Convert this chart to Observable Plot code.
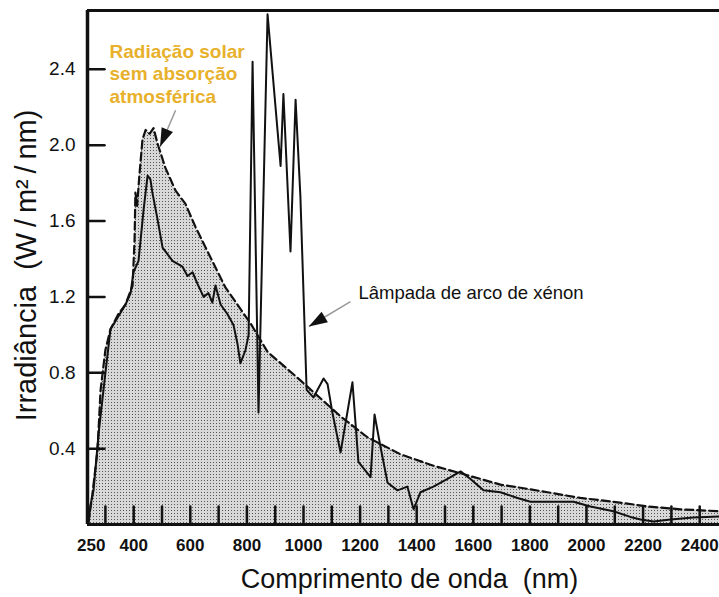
<!DOCTYPE html>
<html><head><meta charset="utf-8">
<script src="https://cdn.jsdelivr.net/npm/d3@7"></script>
<script src="https://cdn.jsdelivr.net/npm/@observablehq/plot@0.6"></script>
<style>body{margin:0;background:#fff}</style>
</head><body><div id="chart"></div>
<script>
// Solar spectrum without atmospheric absorption (dashed, filled)
const solarNm  = [240, 254, 272, 283, 300, 318, 346, 371, 396, 403, 406, 412, 420, 431, 442, 456, 470, 484, 512, 548, 583, 618, 664, 724, 813, 873, 989, 1131, 1226, 1343, 1459, 1555, 1696, 1742, 1862, 1979, 2095, 2216, 2332, 2470];
const solarIrr = [0.01, 0.16, 0.39, 0.71, 0.92, 1.03, 1.11, 1.16, 1.26, 1.50, 1.75, 1.68, 1.84, 2.03, 2.08, 2.06, 2.09, 2.01, 1.88, 1.76, 1.69, 1.57, 1.43, 1.25, 1.06, 0.91, 0.76, 0.57, 0.46, 0.37, 0.31, 0.27, 0.21, 0.20, 0.17, 0.14, 0.12, 0.095, 0.08, 0.07];
// Xenon arc lamp (solid)
const lampNm  = [240, 247, 258, 276, 300, 318, 343, 371, 389, 399, 417, 435, 449, 459, 466, 484, 502, 537, 572, 590, 608, 625, 647, 664, 678, 689, 707, 731, 753, 767, 777, 795, 806, 820, 841, 873, 919, 929, 954, 972, 989, 1011, 1035, 1071, 1085, 1102, 1131, 1173, 1194, 1237, 1251, 1272, 1297, 1332, 1367, 1389, 1413, 1459, 1509, 1555, 1590, 1636, 1696, 1756, 1802, 1862, 1954, 2014, 2095, 2155, 2191, 2237, 2297, 2378, 2470];
const lampIrr = [0.01, 0.10, 0.18, 0.48, 0.80, 1.03, 1.09, 1.16, 1.22, 1.33, 1.39, 1.66, 1.84, 1.82, 1.75, 1.61, 1.46, 1.39, 1.36, 1.31, 1.33, 1.27, 1.20, 1.22, 1.17, 1.26, 1.16, 1.11, 1.05, 0.95, 0.85, 0.92, 1.00, 2.44, 0.59, 2.69, 1.89, 2.27, 1.44, 2.24, 1.73, 0.71, 0.67, 0.77, 0.74, 0.59, 0.38, 0.75, 0.33, 0.25, 0.58, 0.41, 0.22, 0.18, 0.20, 0.08, 0.17, 0.20, 0.24, 0.28, 0.24, 0.18, 0.17, 0.14, 0.12, 0.12, 0.12, 0.095, 0.07, 0.04, 0.026, 0.016, 0.026, 0.037, 0.042];
const xTickLabels = [250, 400, 600, 800, 1000, 1200, 1400, 1600, 1800, 2000, 2200, 2400];
const xTickMarks = [300, 400, 500, 600, 700, 800, 900, 1000, 1100, 1200, 1300, 1400, 1500, 1600, 1700, 1800, 1900, 2000, 2100, 2200, 2300, 2400];
const yTicks = [0.4, 0.8, 1.2, 1.6, 2.0, 2.4];
const xTitle = "Comprimento de onda\u00a0 (nm)";
const yTitle = "Irradiância\u00a0 (W\u2009/\u2009m²\u2009/\u2009nm)";
const solarLabel = ["Radiação solar", "sem absorção", "atmosférica"];
const lampLabel = "Lâmpada de arco de xénon";

const W = 719, H = 597, mL = 87, mR = 0, mT = 10, mB = 73;
const xDom = [236.7, 2470], yDom = [0, 2.71];
const solar = solarNm.map((x, i) => ({x, y: solarIrr[i]}));
const lamp = lampNm.map((x, i) => ({x, y: lampIrr[i]}));

// inward tick lengths (18 px / 17 px) expressed in data units
const fw = W - mL - mR, fh = H - mT - mB;
const xTickLen = 18 / fh * (yDom[1] - yDom[0]);
const yTickLen = 17 / fw * (xDom[1] - xDom[0]);
// tick segments built from the tick arrays (two end points per tick)
const xTickSegs = xTickMarks.flatMap(v => [{x: v, y: 0, k: "x" + v}, {x: v, y: xTickLen, k: "x" + v}]);
const yTickSegs = yTicks.flatMap(v => [{x: xDom[0], y: v, k: "y" + v}, {x: xDom[0] + yTickLen, y: v, k: "y" + v}]);

// annotation anchors (data space)
const arrows = [
  {x1: 548, y1: 2.184, x2: 493, y2: 1.992, rot: -157},
  {x1: 1166, y1: 1.175, x2: 1018.7, y2: 1.044, rot: -121}
];
const headSymbol = {draw(ctx, size) { const L = Math.sqrt(size); ctx.moveTo(0, 0); ctx.lineTo(-0.33 * L, L); ctx.lineTo(0.33 * L, L); ctx.closePath(); }};

const plot = Plot.plot({
  width: W, height: H, marginLeft: mL, marginRight: mR, marginTop: mT, marginBottom: mB,
  style: {fontFamily: "'Liberation Sans', Arial, sans-serif", background: "#fff", color: "#111", overflow: "visible"},
  x: {domain: xDom},
  y: {domain: yDom},
  marks: [
    Plot.areaY(solar, {x: "x", y: "y", fill: "url(#stipple)"}),
    Plot.line(xTickSegs, {x: "x", y: "y", z: "k", stroke: "#111", strokeWidth: 2.5}),
    Plot.line(yTickSegs, {x: "x", y: "y", z: "k", stroke: "#111", strokeWidth: 2.5}),
    Plot.lineY(solar, {x: "x", y: "y", stroke: "#111", strokeWidth: 2.2, strokeDasharray: "8,4"}),
    Plot.lineY(lamp, {x: "x", y: "y", stroke: "#111", strokeWidth: 2}),
    Plot.axisX(xTickLabels, {tickSize: 0, tickPadding: 14, fontSize: 17, fontWeight: "bold", tickFormat: d => String(d), label: null}),
    Plot.axisY(yTicks, {tickSize: 0, tickPadding: 12, fontSize: 19, tickFormat: d => d.toFixed(1), label: null}),
    Plot.text([xTitle], {text: d => d, frameAnchor: "bottom", dy: 63, dx: 6, fontSize: 27, fill: "#111"}),
    Plot.text([yTitle], {text: d => d, frameAnchor: "left", dx: -61, dy: -2, rotate: -90, textAnchor: "middle", lineAnchor: "middle", fontSize: 29, fill: "#111"}),
    Plot.text([solarLabel.join("\n")], {text: d => d, x: 314.5, y: 2.379, textAnchor: "start", lineAnchor: "middle", lineHeight: 1.18, fontSize: 19, fontWeight: "bold", fill: "#E8B12C"}),
    Plot.text([lampLabel], {text: d => d, x: 1194, y: 1.221, textAnchor: "start", fontSize: 18.5, fill: "#111"}),
    Plot.link(arrows, {x1: "x1", y1: "y1", x2: "x2", y2: "y2", stroke: "#999", strokeWidth: 1.5}),
    Plot.dot(arrows, {x: "x2", y: "y2", symbol: headSymbol, r: 10.5, rotate: "rot", fill: "#111", stroke: "none"}),
    Plot.ruleX([xDom[0]], {stroke: "#111", strokeWidth: 3.5}),
    Plot.ruleY([0], {stroke: "#111", strokeWidth: 3}),
    Plot.ruleY([yDom[1]], {stroke: "#111", strokeWidth: 3})
  ]
});

const svg = d3.select(plot);
const defs = svg.insert("defs", ":first-child");
const pat = defs.append("pattern").attr("id", "stipple").attr("patternUnits", "userSpaceOnUse").attr("width", 3).attr("height", 3);
pat.append("rect").attr("width", 3).attr("height", 3).attr("fill", "#d8d8d8");
pat.append("rect").attr("width", 1).attr("height", 1).attr("fill", "#555");
document.getElementById("chart").appendChild(plot);
</script>
</body></html>
